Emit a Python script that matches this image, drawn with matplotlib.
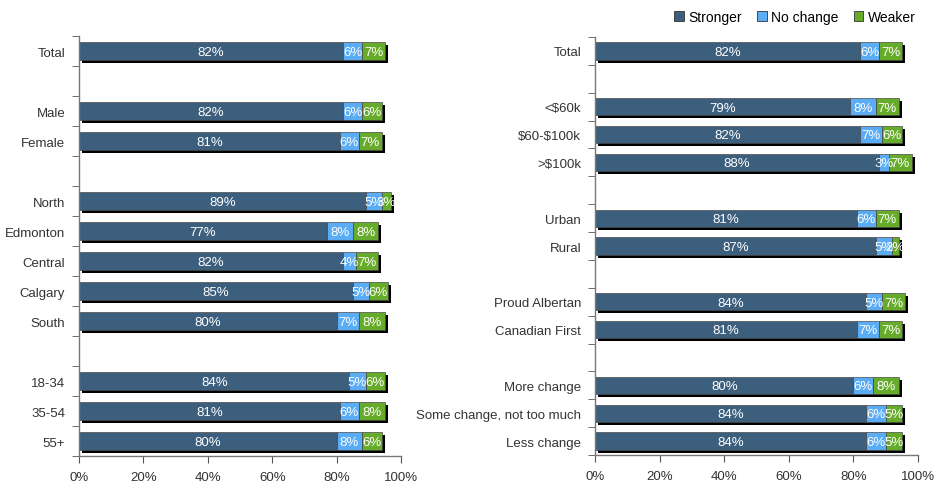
import matplotlib
matplotlib.use("Agg")
import matplotlib.pyplot as plt
import matplotlib.transforms as mtransforms
from matplotlib.patches import Patch

plt.rcParams['font.family'] = ['Liberation Sans', 'DejaVu Sans']

series_names = ["Stronger", "No change", "Weaker"]
colors = ["#3d5f7e", "#5aacf5", "#67ab2a"]

# Left panel (None = blank spacer row)
left_cats = ["Total", None, "Male", "Female", None, "North", "Edmonton", "Central",
             "Calgary", "South", None, "18-34", "35-54", "55+"]
left_stronger = [82, None, 82, 81, None, 89, 77, 82, 85, 80, None, 84, 81, 80]
left_nochange = [6, None, 6, 6, None, 5, 8, 4, 5, 7, None, 5, 6, 8]
left_weaker = [7, None, 6, 7, None, 3, 8, 7, 6, 8, None, 6, 8, 6]

# Right panel
right_cats = ["Total", None, "<$60k", "$60-$100k", ">$100k", None, "Urban", "Rural", None,
              "Proud Albertan", "Canadian First", None, "More change",
              "Some change, not too much", "Less change"]
right_stronger = [82, None, 79, 82, 88, None, 81, 87, None, 84, 81, None, 80, 84, 84]
right_nochange = [6, None, 8, 7, 3, None, 6, 5, None, 5, 7, None, 6, 6, 6]
right_weaker = [7, None, 7, 6, 7, None, 7, 2, None, 7, 7, None, 8, 5, 5]

xticks = [0, 20, 40, 60, 80, 100]

fig = plt.figure(figsize=(9.43, 4.85), dpi=100)
fig.patch.set_facecolor("white")


def draw_panel(ax, cats, s1, s2, s3, bar_h):
    n = len(cats)
    ax.set_xlim(0, 100)
    ax.set_ylim(n - 0.5, -0.5)
    shadow_tr = mtransforms.offset_copy(ax.transData, fig=fig, x=3, y=-3, units='dots')
    labels = []
    pos = []
    for i, c in enumerate(cats):
        if c is None:
            continue
        vals = [s1[i], s2[i], s3[i]]
        total = sum(vals)
        ax.barh(i, total, height=bar_h, color="black", transform=shadow_tr, zorder=1)
        left = 0
        for v, col in zip(vals, colors):
            ax.barh(i, v, left=left, height=bar_h, color=col, edgecolor="#4a4a4a",
                    linewidth=0.5, zorder=2)
            ax.text(left + v / 2, i + 0.03, f"{v}%", ha="center", va="center", color="white",
                    fontsize=9.5, zorder=3)
            left += v
        labels.append(c)
        pos.append(i)
    ax.set_yticks(pos)
    ax.set_yticklabels([l.replace("$", r"\$") for l in labels], fontsize=9.5, color="#333333")
    ax.set_yticks([k - 0.5 for k in range(n + 1)], minor=True)
    ax.tick_params(axis="y", which="major", length=0, pad=10)
    ax.tick_params(axis="y", which="minor", length=5, color="#555555", direction="out")
    ax.set_xticks(xticks)
    ax.set_xticklabels([f"{t}%" for t in xticks], fontsize=9.5, color="#333333")
    ax.tick_params(axis="x", length=5, color="#555555", pad=6)
    for s in ["top", "right"]:
        ax.spines[s].set_visible(False)
    for s in ["left", "bottom"]:
        ax.spines[s].set_color("#777777")
        ax.spines[s].set_linewidth(1.0)


ax1 = fig.add_axes([0.0838, 0.0577, 0.3414, 0.866])
draw_panel(ax1, left_cats, left_stronger, left_nochange, left_weaker, 0.6)

ax2 = fig.add_axes([0.631, 0.0598, 0.3425, 0.8618])
draw_panel(ax2, right_cats, right_stronger, right_nochange, right_weaker, 0.62)

handles = [Patch(facecolor=c, edgecolor="#333333", linewidth=0.6) for c in colors]
fig.legend(handles, series_names, loc="upper right", bbox_to_anchor=(0.984, 1.003),
           ncol=3, frameon=False, fontsize=10, handlelength=0.7, handleheight=0.7,
           handletextpad=0.3, columnspacing=1.1)

fig.savefig("out.png", dpi=100, facecolor="white")
